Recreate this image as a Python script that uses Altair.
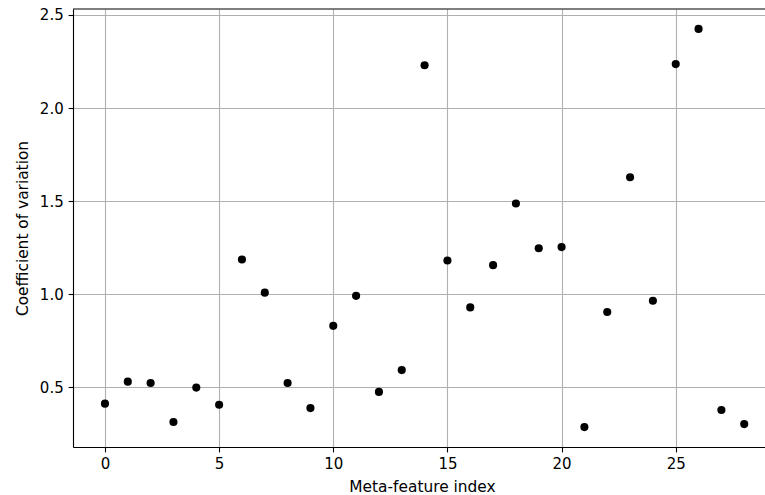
import altair as alt
import pandas as pd

# Data
meta_feature_index = list(range(29))
coef_variation = [0.412, 0.530, 0.523, 0.313, 0.498, 0.406, 1.186, 1.008, 0.523, 0.388,
                  0.830, 0.991, 0.475, 0.592, 2.230, 1.181, 0.929, 1.156, 1.487, 1.247,
                  1.253, 0.286, 0.904, 1.628, 0.965, 2.236, 2.425, 0.378, 0.302]
x_ticks = [0, 5, 10, 15, 20, 25]
y_ticks = [0.5, 1.0, 1.5, 2.0, 2.5]

df = pd.DataFrame({"idx": meta_feature_index, "cv": coef_variation})

FONT = "DejaVu Sans"
LFS = 15
TFS = 15.4
W, H = 692, 438

points = alt.Chart(df).mark_circle(size=66, color="black", opacity=1).encode(
    x=alt.X("idx:Q", title="Meta-feature index",
            scale=alt.Scale(domain=[-1.4, 28.91], nice=False, zero=False),
            axis=alt.Axis(values=x_ticks, format="d", grid=True, gridColor="#b0b0b0",
                          gridWidth=1.1, domainColor="black", domainWidth=1.1,
                          tickColor="black", tickWidth=1.1, tickSize=4.9,
                          labelPadding=4.9, labelFont=FONT, labelFontSize=LFS,
                          labelColor="black", titleFont=FONT, titleFontSize=TFS,
                          titleFontWeight="normal", titleColor="black",
                          titlePadding=8, titleX=349, titleAnchor="middle",
                          labelFlush=False)),
    y=alt.Y("cv:Q", title="Coefficient of variation",
            scale=alt.Scale(domain=[0.179, 2.532], nice=False, zero=False),
            axis=alt.Axis(values=y_ticks, format=".1f", grid=True, gridColor="#b0b0b0",
                          gridWidth=1.1, domainColor="black", domainWidth=1.1,
                          tickColor="black", tickWidth=1.1, tickSize=4.9,
                          labelPadding=4.9, labelFont=FONT, labelFontSize=LFS,
                          labelColor="black", titleFont=FONT, titleFontSize=TFS,
                          titleFontWeight="normal", titleColor="black",
                          titlePadding=9, labelFlush=False)),
)

top_border = alt.Chart(alt.Data(values=[{}])).mark_rule(color="black", strokeWidth=1.1).encode(
    x=alt.value(0), x2=alt.value(W), y=alt.value(0)
)

chart = alt.layer(points, top_border).properties(
    width=W, height=H,
    autosize=alt.AutoSizeParams(type="none"),
    padding={"left": 73, "top": 9, "right": 0, "bottom": 48},
    background="white",
).configure_view(stroke=None)

chart.save("out.html", embed_options={"renderer": "svg", "actions": False})
